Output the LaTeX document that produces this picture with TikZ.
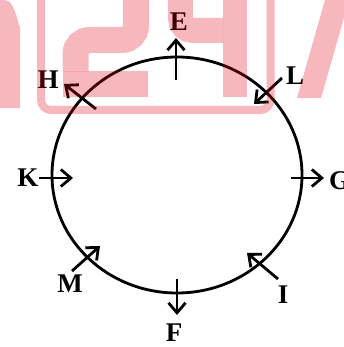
\documentclass[tikz,border=0pt]{standalone}
\usepackage{fontspec}
\setmainfont{Liberation Serif}
\usetikzlibrary{arrows.meta}
\definecolor{wmred}{RGB}{222,0,19}

\begin{document}
\begin{tikzpicture}[x=1pt,y=-1pt,
  ray/.style={line width=2.8pt,-{Straight Barb[length=10pt,width=17pt]}},
  letter/.style={inner sep=0pt,font=\bfseries\fontsize{27}{27}\selectfont},
  wmark/.style={wmred,opacity=0.28}]
\useasboundingbox (0,0) rectangle (343,347);
% ring
\draw [line width=2.8pt] (177,175) ellipse [x radius=125,y radius=118];
% ends of the arrows
\coordinate (e0) at (176,80);  \coordinate (e1) at (176,38);
\coordinate (h0) at (96,109);  \coordinate (h1) at (64,84);
\coordinate (l0) at (282,78);  \coordinate (l1) at (254,104);
\coordinate (k0) at (39,178);  \coordinate (k1) at (73,178);
\coordinate (g0) at (291,178); \coordinate (g1) at (324,178);
\coordinate (m0) at (72,271);  \coordinate (m1) at (100,246);
\coordinate (i0) at (278,279); \coordinate (i1) at (247,253);
\coordinate (f0) at (177,279); \coordinate (f1) at (177,315);
\draw [ray] (e0) -- (e1);
\draw [ray] (h0) -- (h1);
\draw [ray] (l0) -- (l1);
\draw [ray] (k0) -- (k1);
\draw [ray] (g0) -- (g1);
\draw [ray] (m0) -- (m1);
\draw [ray] (i0) -- (i1);
\draw [ray] (f0) -- (f1);
% letters
\node [letter] (E) at (179,22) {E};
\node [letter] (H) at (48,80) {H};
\node [letter] (L) at (295,76) {L};
\node [letter] (K) at (28,178) {K};
\node [letter,anchor=west] (G) at (329,181) {G};
\node [letter] (M) at (70,284) {M};
\node [letter] (I) at (283,295) {I};
\node [letter] (F) at (174,333) {F};
% watermark
\fill [wmark] (0,-5) -- (5,-5) -- (5,0) to[out=0,in=-90] (20,25) -- (20,108) -- (0,108) -- cycle;
\draw [wmark,line width=8] (41,-5) [rounded corners=10] -- (41,110) -- (270.5,110) [sharp corners] -- (270.5,-5);
\draw [wmark,line width=26,rounded corners=14] (136,-10) -- (136,40) -- (75.5,40) -- (75.5,71.5);
\fill [wmark] (62.5,71.5) rectangle (148,97.5);
\draw [wmark,line width=25,rounded corners=12] (180.5,-10) -- (180.5,30.5) -- (223,30.5);
\fill [wmark] (223,-5) rectangle (247,97);
\fill [wmark] (297,98) -- (321,98) -- (349,0) -- (325,0) -- cycle;
\end{tikzpicture}
\end{document}
